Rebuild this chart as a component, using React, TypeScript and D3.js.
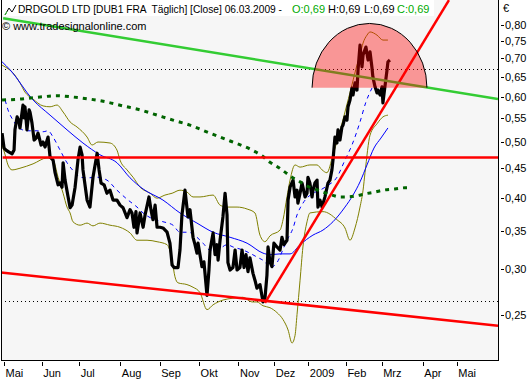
import React from 'react';
import * as d3 from 'd3';

// ---- data (x = trading-day index from 1 May 2008, y = price in EUR) ----
const monthLabels = ['Mai', 'Jun', 'Jul', 'Aug', 'Sep', 'Okt', 'Nov', 'Dez', '2009', 'Feb', 'Mrz', 'Apr', 'Mai'];
const monthStartIdx = [0, 21, 42, 65, 87, 109, 131, 151, 170, 191, 211, 234, 253];
const yTicks = [0.25, 0.3, 0.35, 0.4, 0.45, 0.5, 0.55, 0.6, 0.65, 0.7, 0.75, 0.8];

const titleMain = 'DRDGOLD LTD [DUB1 FRA  Täglich] [Close] 06.03.2009 -';
const titleO = 'O:0,69';
const titleH = 'H:0,69';
const titleL = 'L:0,69';
const titleC = 'C:0,69';
const copyright = '© www.tradesignalonline.com';

const price: [number, number][] = [
  [-1.1, 0.518], [0, 0.488], [1.1, 0.484], [2.8, 0.48], [4.5, 0.477], [5.6, 0.484], [6.1, 0.525], [7.3, 0.553],
  [8.4, 0.542], [8.9, 0.529], [10.6, 0.58], [11.2, 0.551], [11.7, 0.576], [12.8, 0.525], [14.0, 0.569], [14.5, 0.564],
  [15.6, 0.54], [16.8, 0.504], [17.9, 0.508], [19.0, 0.518], [20.7, 0.494], [21.8, 0.5], [22.9, 0.49], [24.6, 0.51],
  [25.7, 0.471], [27.4, 0.465], [28.5, 0.442], [30.2, 0.421], [31.3, 0.424], [32.4, 0.417], [33.0, 0.46], [34.1, 0.429],
  [35.8, 0.401], [36.9, 0.384], [38.0, 0.388], [39.7, 0.417], [41.3, 0.465], [42.5, 0.49], [43.6, 0.475], [44.1, 0.447],
  [46.4, 0.396], [48.0, 0.385], [49.7, 0.434], [52.0, 0.478], [53.1, 0.447], [54.2, 0.424], [55.9, 0.421], [57.5, 0.407],
  [59.2, 0.412], [60.9, 0.396], [63.1, 0.396], [64.8, 0.388], [66.5, 0.384], [68.7, 0.369], [70.4, 0.381], [71.5, 0.376],
  [72.6, 0.355], [73.7, 0.378], [74.3, 0.347], [76.0, 0.376], [77.7, 0.355], [78.8, 0.373], [81.0, 0.401], [82.1, 0.381],
  [83.2, 0.366], [84.4, 0.388], [85.5, 0.355], [87.2, 0.355], [88.8, 0.354], [91.1, 0.348], [92.7, 0.333], [93.9, 0.305],
  [95.0, 0.302], [97.2, 0.302], [98.3, 0.324], [99.4, 0.373], [101.1, 0.412], [102.8, 0.37], [103.9, 0.381], [105.6, 0.341],
  [106.7, 0.331], [107.8, 0.32], [108.4, 0.333], [110.6, 0.303], [111.7, 0.309], [113.4, 0.27], [114.5, 0.299], [115.1, 0.324],
  [116.8, 0.347], [117.9, 0.318], [119.0, 0.331], [119.6, 0.311], [120.7, 0.337], [122.3, 0.37], [123.5, 0.407], [124.6, 0.373],
  [125.1, 0.308], [126.3, 0.299], [127.9, 0.302], [129.1, 0.324], [130.2, 0.299], [131.8, 0.302], [133.0, 0.324], [134.1, 0.302],
  [135.2, 0.318], [136.3, 0.297], [137.4, 0.314], [139.1, 0.295], [140.2, 0.287], [141.3, 0.278], [143.0, 0.282], [144.7, 0.263],
  [145.8, 0.267], [146.9, 0.293], [147.5, 0.328], [148.6, 0.309], [149.7, 0.303], [150.8, 0.333], [152.5, 0.328], [154.2, 0.324],
  [155.3, 0.341], [156.4, 0.331], [158.1, 0.337], [158.7, 0.396], [159.8, 0.417], [161.5, 0.429], [162.6, 0.401], [163.7, 0.412],
  [164.2, 0.391], [165.4, 0.407], [166.5, 0.424], [167.0, 0.417], [168.2, 0.401], [169.3, 0.407], [169.8, 0.434], [170.9, 0.424],
  [172.1, 0.401], [172.6, 0.412], [173.7, 0.424], [174.9, 0.429], [175.4, 0.385], [176.5, 0.396], [177.7, 0.385], [179.3, 0.401],
  [181.0, 0.424], [182.1, 0.429], [183.2, 0.447], [183.8, 0.465], [184.9, 0.51], [186.0, 0.498], [186.6, 0.525], [187.7, 0.504],
  [188.8, 0.531], [189.4, 0.535], [190.5, 0.553], [191.6, 0.546], [192.2, 0.576], [193.3, 0.592], [194.4, 0.621], [195.0, 0.604],
  [196.1, 0.634], [197.2, 0.616], [197.8, 0.668], [198.9, 0.738], [200.0, 0.676], [200.6, 0.709], [202.2, 0.732], [203.4, 0.695],
  [204.5, 0.718], [205.6, 0.673], [206.1, 0.649], [207.3, 0.624], [208.4, 0.609], [208.9, 0.616], [210.1, 0.604], [211.2, 0.624],
  [211.7, 0.585], [212.8, 0.624], [214.0, 0.668], [214.5, 0.69], [215.6, 0.695],
];

const maSlow: [number, number][] = [
  [-1.1, 0.69], [3.4, 0.668], [16.2, 0.592], [25.7, 0.557], [35.2, 0.525], [44.1, 0.498], [53.6, 0.475], [63.1, 0.46],
  [70.4, 0.433], [77.7, 0.414], [88.8, 0.396], [98.3, 0.376], [107.8, 0.361], [116.8, 0.348], [126.3, 0.341], [135.8, 0.333],
  [144.7, 0.32], [148.6, 0.318], [154.2, 0.319], [159.8, 0.319], [165.4, 0.331], [172.6, 0.344], [178.2, 0.351], [183.8, 0.363],
  [190.5, 0.385], [195.0, 0.404], [198.9, 0.426], [202.8, 0.456], [206.7, 0.488], [210.6, 0.508], [214.5, 0.529],
];

const maFast: [number, number][] = [
  [0.6, 0.592], [2.2, 0.569], [5.0, 0.546], [7.8, 0.531], [12.8, 0.523], [18.4, 0.523], [21.8, 0.521], [24.6, 0.523],
  [27.4, 0.51], [31.3, 0.484], [35.2, 0.46], [39.7, 0.442], [42.5, 0.434], [46.9, 0.433], [52.0, 0.434], [57.5, 0.429],
  [63.1, 0.412], [69.3, 0.396], [74.3, 0.385], [77.7, 0.376], [83.2, 0.367], [88.8, 0.363], [94.4, 0.358], [98.3, 0.348],
  [102.8, 0.348], [107.8, 0.341], [111.2, 0.333], [115.1, 0.324], [119.0, 0.324], [124.6, 0.331], [127.9, 0.328], [133.5, 0.324],
  [141.3, 0.315], [145.8, 0.309], [148.6, 0.302], [152.5, 0.308], [155.9, 0.325], [158.1, 0.337], [161.5, 0.354], [163.7, 0.373],
  [167.0, 0.391], [172.6, 0.407], [176.5, 0.412], [180.4, 0.419], [186.0, 0.434], [190.5, 0.465], [194.4, 0.494], [198.9, 0.542],
  [202.2, 0.587], [205.6, 0.621],
];

const upperBand: [number, number][] = [
  [-1.1, 0.681], [0.6, 0.676], [5.0, 0.66], [8.9, 0.634], [11.7, 0.611], [16.2, 0.594], [21.8, 0.578], [25.7, 0.576],
  [29.6, 0.58], [33.0, 0.564], [36.9, 0.542], [40.8, 0.531], [46.4, 0.51], [49.2, 0.494], [52.5, 0.5], [59.2, 0.498],
  [63.1, 0.484], [64.8, 0.465], [68.7, 0.447], [72.1, 0.434], [76.0, 0.417], [81.6, 0.407], [85.5, 0.399], [89.9, 0.404],
  [93.9, 0.407], [98.3, 0.412], [102.2, 0.409], [105.6, 0.401], [109.5, 0.401], [116.8, 0.404], [120.7, 0.388], [124.6, 0.385],
  [130.2, 0.385], [135.8, 0.382], [140.2, 0.376], [143.0, 0.344], [145.8, 0.335], [148.6, 0.343], [154.2, 0.351], [155.9, 0.366],
  [158.1, 0.401], [159.8, 0.429], [162.6, 0.456], [165.4, 0.452], [170.9, 0.456], [174.9, 0.456], [177.7, 0.447], [180.4, 0.442],
  [183.8, 0.475], [186.6, 0.508], [190.5, 0.564], [194.4, 0.629], [197.2, 0.681], [198.9, 0.709], [200.6, 0.744], [202.8, 0.768],
  [204.5, 0.778], [208.4, 0.768], [211.7, 0.753], [214.5, 0.753],
];

const lowerBand: [number, number][] = [
  [-1.1, 0.494], [0.6, 0.475], [2.2, 0.456], [4.5, 0.447], [8.9, 0.45], [16.2, 0.458], [24.0, 0.469], [27.4, 0.465],
  [30.2, 0.434], [33.0, 0.407], [35.2, 0.385], [36.9, 0.376], [38.5, 0.363], [42.5, 0.358], [46.4, 0.361], [49.7, 0.357],
  [53.6, 0.361], [59.2, 0.358], [64.8, 0.355], [70.4, 0.347], [74.3, 0.337], [79.9, 0.337], [85.5, 0.335], [91.1, 0.331],
  [93.9, 0.311], [95.5, 0.291], [97.2, 0.284], [102.2, 0.282], [105.6, 0.279], [109.5, 0.273], [113.4, 0.255], [116.8, 0.26],
  [122.3, 0.265], [127.9, 0.267], [133.5, 0.268], [138.5, 0.263], [141.3, 0.263], [144.7, 0.259], [148.6, 0.257], [152.5, 0.252],
  [155.9, 0.245], [158.7, 0.235], [160.9, 0.223], [162.6, 0.23], [163.7, 0.25], [165.4, 0.287], [167.0, 0.328], [169.3, 0.363],
  [170.9, 0.376], [178.2, 0.378], [186.0, 0.366], [190.5, 0.354], [193.3, 0.337], [196.1, 0.354], [198.9, 0.385], [200.6, 0.412],
  [201.7, 0.442], [204.5, 0.514], [208.4, 0.538], [211.7, 0.553], [214.5, 0.557],
];

const ma200: [number, number][] = [
  [-1.1, 0.592], [8.9, 0.594], [20.1, 0.599], [29.6, 0.602], [38.5, 0.599], [48.0, 0.594], [57.5, 0.587], [66.5, 0.578],
  [76.0, 0.569], [85.5, 0.557], [94.4, 0.546], [103.9, 0.535], [115.1, 0.518], [126.3, 0.502], [137.4, 0.486], [144.1, 0.473],
  [148.6, 0.461], [153.1, 0.452], [157.0, 0.443], [160.9, 0.434], [165.4, 0.426], [169.3, 0.419], [173.7, 0.414], [178.2, 0.409],
  [183.2, 0.404], [187.7, 0.401], [192.2, 0.401], [197.2, 0.403], [201.7, 0.406], [207.3, 0.409], [211.7, 0.412], [218.4, 0.414],
  [224.0, 0.416], [227.9, 0.416],
];

const greenTrend: [number, number][] = [[-0.5, 0.822], [276, 0.594]];
const redLowerTrend: [number, number][] = [[-1.7, 0.296], [276, 0.239]];
const redSteepTrend: [number, number][] = [[145.8, 0.262], [248.6, 0.884]];
const redHorizontal: [number, number][] = [[-0.8, 0.47], [276, 0.47]];
const dottedLevels = [0.67, 0.264];
const arcFromIdx = 172.1;
const arcToIdx = 236.3;
const arcBase = 0.622;
const arcTop = 0.805;

export default function App() {
  const W = 530, H = 380;
  const L = 1, R = 498, T = 0, B = 360;
  const x = d3.scaleLinear().domain([-1.7, 276]).range([L, R]);
  const y = d3.scaleLog().domain([0.2083, 0.8845]).range([B, T]);
  const lin = d3.line<[number, number]>().x(d => x(d[0])).y(d => y(d[1]));
  const smooth = d3.line<[number, number]>().x(d => x(d[0])).y(d => y(d[1])).curve(d3.curveMonotoneX);
  const loc = d3.formatLocale({ decimal: ',', thousands: '.', grouping: [3], currency: ['', '€'] });
  const fmt = loc.format('.2f');

  const xl = x(arcFromIdx), xr = x(arcToIdx), yb = y(arcBase), yt = y(arcTop);
  const rx = (xr - xl) / 2, ry = yb - yt;
  const arcPath = `M${xl},${yb} A${rx},${ry} 0 0 1 ${xr},${yb}`;

  const font = '"Liberation Sans", Arial, sans-serif';

  return (
    <svg width={W} height={H} style={{ position: 'absolute', left: 0, top: 0, background: '#ffffff' }}
      fontFamily={font}>
      <defs>
        <clipPath id="plot">
          <rect x={L} y={T} width={R - L} height={B - T} />
        </clipPath>
      </defs>
      <rect x={0} y={0} width={W} height={H} fill="#ffffff" />
      <rect x={L} y={T} width={R - L} height={B - T} fill="#f6f6f6" />

      <g clipPath="url(#plot)">
        {dottedLevels.map((v, i) => (
          <line key={i} x1={L} x2={R} y1={Math.round(y(v)) + 0.5} y2={Math.round(y(v)) + 0.5}
            stroke="#000" strokeWidth={1} strokeDasharray="1,3" />
        ))}
        <path d={smooth(upperBand) || ''} fill="none" stroke="#808000" strokeWidth={1} />
        <path d={smooth(lowerBand) || ''} fill="none" stroke="#808000" strokeWidth={1} />
        <path d={smooth(maSlow) || ''} fill="none" stroke="#0000ff" strokeWidth={1} />
        <path d={smooth(maFast) || ''} fill="none" stroke="#0000ff" strokeWidth={1} strokeDasharray="4,4" />
        <path d={lin(price) || ''} fill="none" stroke="#000" strokeWidth={3.2} strokeLinejoin="round" />
        <path d={smooth(ma200) || ''} fill="none" stroke="#006400" strokeWidth={3} strokeDasharray="4,5" />
        <path d={lin(redHorizontal) || ''} fill="none" stroke="#ff0000" strokeWidth={2.5} />
        <path d={lin(redLowerTrend) || ''} fill="none" stroke="#ff0000" strokeWidth={2.5} />
        <path d={lin(redSteepTrend) || ''} fill="none" stroke="#ff0000" strokeWidth={2.5} />
        <path d={lin(greenTrend) || ''} fill="none" stroke="#33cc33" strokeWidth={2.5} />
        <path d={arcPath + ' Z'} fill="#ff0000" fillOpacity={0.39} stroke="none" />
        <path d={arcPath} fill="none" stroke="#000" strokeWidth={1} />
      </g>

      {/* frame */}
      <g shapeRendering="crispEdges" stroke="#000" strokeWidth={1}>
        <line x1={L + 0.5} x2={L + 0.5} y1={T} y2={B + 0.5} />
        <line x1={R + 0.5} x2={R + 0.5} y1={T} y2={B + 0.5} />
        <line x1={L} x2={R + 1} y1={B + 0.5} y2={B + 0.5} />
      </g>

      {/* title */}
      <rect x={L + 1} y={0} width={432} height={16} fill="#ffffff" />
      <polyline points="5,15 9,8 12,12 16,5" fill="none" stroke="#000" strokeWidth={1} />
      <line x1={5} y1={15} x2={7} y2={11.5} stroke="#33cc33" strokeWidth={1} />
      <text x={18} y={13} fontSize={10.5} fill="#000" textLength={264} lengthAdjust="spacingAndGlyphs"
        style={{ whiteSpace: 'pre' }}>{titleMain}</text>
      <text x={292} y={13} fontSize={11} fill="#00aa00">{titleO}</text>
      <text x={328} y={13} fontSize={11} fill="#000">{titleH}</text>
      <text x={364} y={13} fontSize={11} fill="#000">{titleL}</text>
      <text x={397} y={13} fontSize={11} fill="#00aa00">{titleC}</text>
      <text x={2} y={30} fontSize={11} fill="#000">{copyright}</text>

      {/* y axis */}
      <text x={503} y={12} fontSize={11} fill="#000">€</text>
      {yTicks.map((v, i) => (
        <g key={i}>
          <line x1={501} x2={504} y1={Math.round(y(v)) + 0.5} y2={Math.round(y(v)) + 0.5} stroke="#000"
            shapeRendering="crispEdges" />
          <text x={505} y={y(v) + 4} fontSize={11} fill="#000">{fmt(v)}</text>
        </g>
      ))}

      {/* x axis */}
      {monthStartIdx.map((m, i) => (
        <g key={i}>
          <line x1={Math.round(x(m)) + 0.5} x2={Math.round(x(m)) + 0.5} y1={362} y2={366} stroke="#000"
            shapeRendering="crispEdges" />
          <text x={x(m) + 1.5} y={377} fontSize={11} fill="#000">{monthLabels[i]}</text>
        </g>
      ))}
    </svg>
  );
}
